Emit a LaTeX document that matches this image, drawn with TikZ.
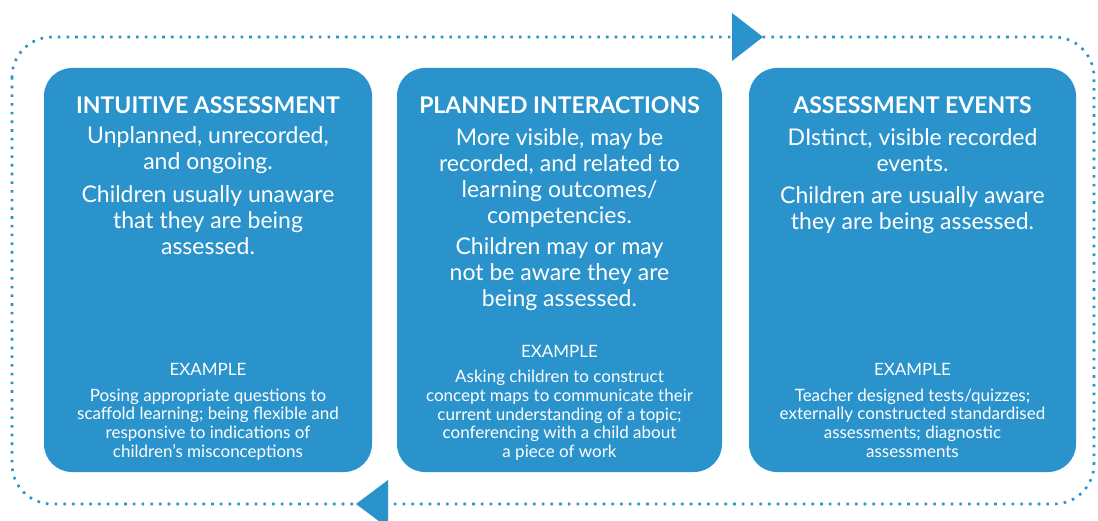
\documentclass[tikz,border=0pt]{standalone}
\usepackage{fontspec}
\setmainfont{Lato}
\definecolor{boxblue}{RGB}{42,147,204}
\begin{document}
\begin{tikzpicture}[x=1pt,y=-1pt,
  stagebox/.style={fill=boxblue,rounded corners=28pt,minimum height=404pt,inner sep=0pt},
  titletext/.style={text=white,font=\fontsize{23}{26}\selectfont\bfseries,inner sep=0pt,anchor=north},
  bodytext/.style={text=white,font=\fontsize{23}{25.8}\selectfont,align=center,inner sep=0pt,anchor=north},
  exhead/.style={text=white,font=\fontsize{17}{18}\selectfont,inner sep=0pt,anchor=north},
  extext/.style={text=white,font=\fontsize{17}{18.7}\selectfont,align=center,inner sep=0pt,anchor=north},
  loopline/.style={draw=boxblue,line width=2.6pt,dash pattern=on 2.6pt off 6.1pt,rounded corners=40pt},
  arrowtri/.style={fill=boxblue}]
\useasboundingbox (0,0) rectangle (1098,521);
% dotted loop
\draw[loopline] (12,37) rectangle (1094,504);
\coordinate (topmark) at (732,37);
\coordinate (botmark) at (388,504);
\fill[arrowtri] (topmark) ++(0,-24) -- ++(31,24) -- ++(-31,24) -- cycle;
\fill[arrowtri] (botmark) ++(0,-24) -- ++(-32,24) -- ++(32,24) -- cycle;
% boxes
\node[stagebox,minimum width=328pt] (b1) at (208,270) {};
\node[stagebox,minimum width=325pt] (b2) at (559.5,270) {};
\node[stagebox,minimum width=327pt] (b3) at (912.5,270) {};
% box 1
\node[titletext] (t1) at (208,96.5) {INTUITIVE ASSESSMENT};
\node[bodytext] (p1a) at (208,126.5) {Unplanned, unrecorded,\\and ongoing.};
\node[bodytext] (p1b) at (208,185.5) {Children usually unaware\\that they are being\\assessed.};
\node[exhead] (e1) at (208,363) {EXAMPLE};
\node[extext] (x1) at (208,388.5) {Posing appropriate questions to\\scaffold learning; being flexible and\\responsive to indications of\\children’s misconceptions};
% box 2
\node[titletext] (t2) at (559.5,96.5) {PLANNED INTERACTIONS};
\node[bodytext] (p2a) at (559.5,128.5) {More visible, may be\\recorded, and related to\\learning outcomes/\\competencies.};
\node[bodytext] (p2b) at (559.5,237.5) {Children may or may\\not be aware they are\\being assessed.};
\node[exhead] (e2) at (559.5,345) {EXAMPLE};
\node[extext] (x2) at (559.5,370) {Asking children to construct\\concept maps to communicate their\\current understanding of a topic;\\conferencing with a child about\\a piece of work};
% box 3
\node[titletext] (t3) at (912.5,96.5) {ASSESSMENT EVENTS};
\node[bodytext] (p3a) at (912.5,128.5) {DIstinct, visible recorded\\events.};
\node[bodytext] (p3b) at (912.5,186.5) {Children are usually aware\\they are being assessed.};
\node[exhead] (e3) at (912.5,363) {EXAMPLE};
\node[extext] (x3) at (912.5,388.5) {Teacher designed tests/quizzes;\\externally constructed standardised\\assessments; diagnostic\\assessments};
\end{tikzpicture}
\end{document}
